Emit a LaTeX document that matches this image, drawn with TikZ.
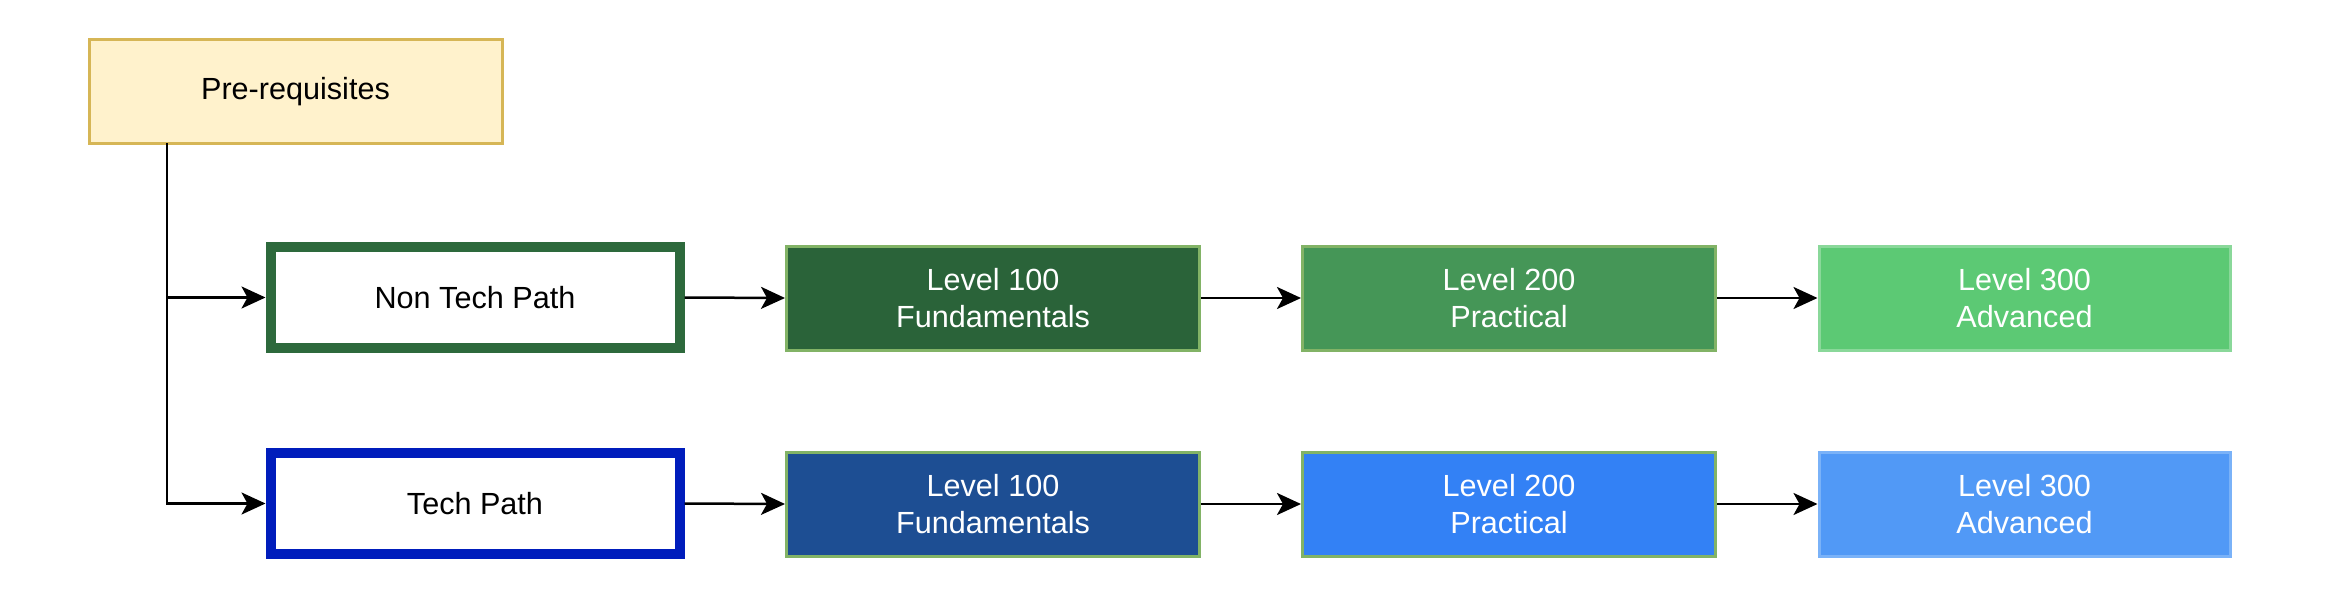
\documentclass[tikz,border=0pt]{standalone}
\usepackage{fontspec}
\setmainfont{Liberation Sans}
\usetikzlibrary{arrows.meta}
\definecolor{preFill}{HTML}{FFF2CC}
\definecolor{preDraw}{HTML}{D6B656}
\definecolor{ntDraw}{HTML}{2D693C}
\definecolor{tDraw}{HTML}{001DBC}
\definecolor{gOne}{HTML}{2A6339}
\definecolor{gTwo}{HTML}{459657}
\definecolor{gThree}{HTML}{5CC974}
\definecolor{bOne}{HTML}{1D4E93}
\definecolor{bTwo}{HTML}{3381F5}
\definecolor{bThree}{HTML}{5199F6}
\definecolor{lvlDraw}{HTML}{82B366}
\definecolor{gThreeDraw}{HTML}{8AD89A}
\definecolor{bThreeDraw}{HTML}{7AB2F8}
\tikzset{
  txt/.style={font=\fontsize{30.6}{36.7}\selectfont, align=center, inner sep=0pt},
  prebox/.style={txt, draw=preDraw, fill=preFill, line width=3pt, minimum width=413pt, minimum height=103pt},
  pathbox/.style={txt, fill=white, line width=10pt, minimum width=409pt, minimum height=101pt},
  lvlbox/.style={txt, text=white, draw=lvlDraw, line width=3pt, minimum width=413pt, minimum height=104pt},
  arr/.style={draw=black, line width=2.5pt, -{Stealth[length=24pt,width=22pt,inset=6pt]}}
}
\begin{document}
\begin{tikzpicture}[x=1pt,y=-1pt]
\useasboundingbox (0,0) rectangle (2338,610);
\node[prebox] (pre) at (295.5,91.5) {Pre-requisites};
\node[pathbox, draw=ntDraw] (nontech) at (475,297.5) {Non Tech Path};
\node[pathbox, draw=tDraw] (tech) at (475,503.5) {Tech Path};
\node[lvlbox, fill=gOne] (g1) at (993,298) {Level 100\\Fundamentals};
\node[lvlbox, fill=gTwo] (g2) at (1509,298) {Level 200\\Practical};
\node[lvlbox, fill=gThree, draw=gThreeDraw, minimum width=411pt] (g3) at (2024.5,298) {Level 300\\Advanced};
\node[lvlbox, fill=bOne] (b1) at (993,504) {Level 100\\Fundamentals};
\node[lvlbox, fill=bTwo] (b2) at (1509,504) {Level 200\\Practical};
\node[lvlbox, fill=bThree, draw=bThreeDraw, minimum width=411pt] (b3) at (2024.5,504) {Level 300\\Advanced};
\coordinate (trunk) at (167,143);
\draw[arr] (trunk) |- (nontech.west);
\draw[arr] (trunk) |- (tech.west);
\draw[arr] (nontech.east) -- (g1.west);
\draw[arr] (g1.east) -- (g2.west);
\draw[arr] (g2.east) -- (g3.west);
\draw[arr] (tech.east) -- (b1.west);
\draw[arr] (b1.east) -- (b2.west);
\draw[arr] (b2.east) -- (b3.west);
\end{tikzpicture}
\end{document}
